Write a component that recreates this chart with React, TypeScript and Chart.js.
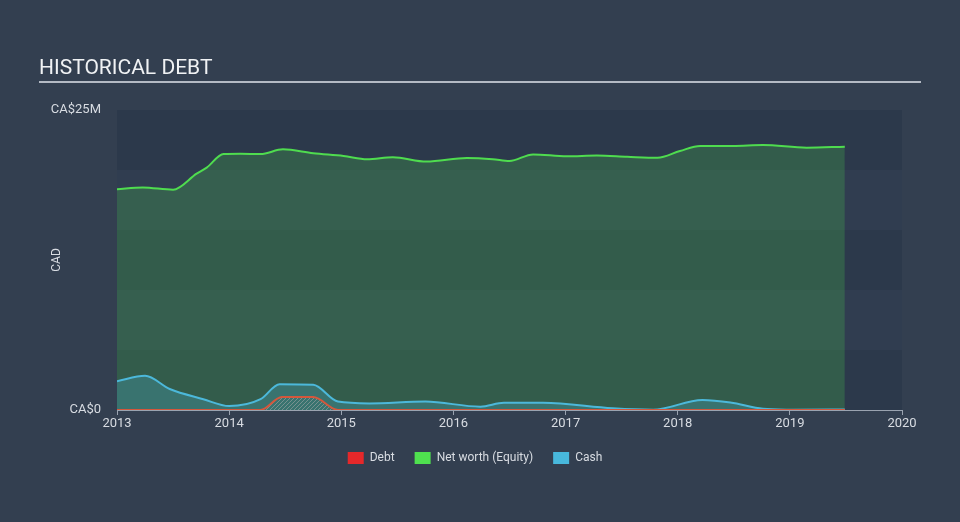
import React, { useEffect, useRef } from 'react';
import { Chart, registerables } from 'chart.js';

Chart.register(...registerables);

// ---- Data (values in CA$ millions, x as decimal years) ----
const xTickYears = [2013, 2014, 2015, 2016, 2017, 2018, 2019, 2020];
const yTickLabels: Record<number, string> = { 0: 'CA$0', 25: 'CA$25M' };

const netWorthX = [2013.0, 2013.23, 2013.5, 2013.71, 2013.8, 2013.95, 2014.1, 2014.28, 2014.48, 2014.75, 2015.02, 2015.23, 2015.46, 2015.76, 2016.12, 2016.35, 2016.5, 2016.71, 2017.01, 2017.28, 2017.55, 2017.82, 2018.02, 2018.2, 2018.49, 2018.76, 2019.15, 2019.49];
const netWorthY = [18.4, 18.55, 18.36, 19.7, 20.2, 21.33, 21.35, 21.33, 21.72, 21.39, 21.17, 20.9, 21.06, 20.7, 21.0, 20.9, 20.75, 21.3, 21.14, 21.2, 21.1, 21.02, 21.58, 22.0, 22.0, 22.08, 21.86, 21.94];

const cashX = [2013.0, 2013.25, 2013.47, 2013.77, 2014.0, 2014.28, 2014.45, 2014.75, 2014.97, 2015.25, 2015.75, 2016.24, 2016.45, 2016.8, 2017.42, 2017.78, 2018.22, 2018.47, 2018.76, 2018.97, 2019.49];
const cashY = [2.4, 2.85, 1.75, 0.9, 0.33, 0.9, 2.15, 2.1, 0.7, 0.55, 0.7, 0.28, 0.6, 0.6, 0.15, 0.03, 0.83, 0.62, 0.1, 0.03, 0.04];

const debtX = [2013.0, 2014.0, 2014.28, 2014.47, 2014.75, 2014.97, 2016.0, 2018.0, 2019.49];
const debtY = [0, 0, 0, 1.08, 1.08, 0, 0, 0, 0];

const legendNames = ['Debt', 'Net worth (Equity)', 'Cash'];
const legendColors = ['#e5282a', '#4fe04f', '#48b8dc'];

const toPoints = (xs: number[], ys: number[]) => xs.map((x, i) => ({ x, y: ys[i] }));

const PAGE_BG = '#333f50';
const BAND_DARK = '#2c394b';
const BAND_LIGHT = '#303d50';

export default function App() {
  const canvasRef = useRef<HTMLCanvasElement | null>(null);

  useEffect(() => {
    document.body.style.margin = '0';
    document.body.style.background = PAGE_BG;
    const canvas = canvasRef.current;
    if (!canvas) return;
    const ctx = canvas.getContext('2d')!;

    const pc = document.createElement('canvas');
    pc.width = 4;
    pc.height = 4;
    const pctx = pc.getContext('2d')!;
    pctx.strokeStyle = 'rgba(170,170,170,0.55)';
    pctx.lineWidth = 1;
    pctx.beginPath();
    pctx.moveTo(0, 4);
    pctx.lineTo(4, 0);
    pctx.moveTo(-1, 1);
    pctx.lineTo(1, -1);
    pctx.moveTo(3, 5);
    pctx.lineTo(5, 3);
    pctx.stroke();
    const hatch = ctx.createPattern(pc, 'repeat')!;

    const bgPlugin = {
      id: 'bgBands',
      beforeDraw(chart: any) {
        const c = chart.ctx;
        const { chartArea, scales } = chart;
        c.save();
        c.fillStyle = PAGE_BG;
        c.fillRect(0, 0, chart.width, chart.height);
        const y = scales.y;
        for (let i = 0; i < 5; i++) {
          const top = y.getPixelForValue((i + 1) * 5);
          const bottom = y.getPixelForValue(i * 5);
          c.fillStyle = i % 2 === 0 ? BAND_DARK : BAND_LIGHT;
          c.fillRect(chartArea.left, top, chartArea.right - chartArea.left, bottom - top);
        }
        c.fillStyle = '#d8dce2';
        c.font = '12px Roboto';
        c.textAlign = 'center';
        c.textBaseline = 'middle';
        c.translate(57, (chartArea.top + chartArea.bottom) / 2);
        c.rotate(-Math.PI / 2);
        c.fillText('CAD', 0, 0);
        c.restore();
      },
    };

    const chart = new Chart(ctx, {
      type: 'line',
      data: {
        datasets: [
          {
            label: legendNames[0],
            data: toPoints(debtX, debtY),
            borderColor: '#d4573c',
            backgroundColor: hatch,
            borderWidth: 2,
            fill: 'origin',
            pointRadius: 0,
            cubicInterpolationMode: 'monotone',
            order: 0,
          },
          {
            label: legendNames[1],
            data: toPoints(netWorthX, netWorthY),
            borderColor: '#4fdc4f',
            backgroundColor: 'rgba(79,220,79,0.22)',
            borderWidth: 2,
            fill: 'origin',
            pointRadius: 0,
            cubicInterpolationMode: 'monotone',
            order: 2,
          },
          {
            label: legendNames[2],
            data: toPoints(cashX, cashY),
            borderColor: '#4cb8da',
            backgroundColor: 'rgba(76,184,218,0.25)',
            borderWidth: 2,
            fill: 'origin',
            pointRadius: 0,
            cubicInterpolationMode: 'monotone',
            order: 1,
          },
        ],
      },
      options: {
        animation: false,
        responsive: false,
        maintainAspectRatio: false,
        layout: { padding: { top: 110, right: 58, bottom: 48, left: 48 } },
        scales: {
          x: {
            type: 'linear',
            min: 2013,
            max: 2020,
            afterBuildTicks: (s: any) => {
              s.ticks = xTickYears.map((v) => ({ value: v }));
            },
            afterFit: (s: any) => {
              s.height = 22;
            },
            ticks: {
              color: '#d8dce2',
              font: { family: 'Roboto', size: 13 },
              padding: 1,
              maxRotation: 0,
              callback: (v: any) => String(v),
            },
            grid: {
              drawOnChartArea: false,
              drawTicks: true,
              tickLength: 5,
              color: '#9aa3b0',
            },
            border: { display: true, color: '#9aa3b0' },
          },
          y: {
            min: 0,
            max: 25,
            afterBuildTicks: (s: any) => {
              s.ticks = [0, 5, 10, 15, 20, 25].map((v) => ({ value: v }));
            },
            afterFit: (s: any) => {
              s.width = 69;
            },
            ticks: {
              color: '#d8dce2',
              font: { family: 'Roboto', size: 13 },
              padding: 8,
              callback: (v: any) => yTickLabels[v] ?? '',
            },
            grid: { display: false },
            border: { display: false },
          },
        },
        plugins: {
          legend: {
            position: 'bottom',
            labels: {
              color: '#d8dce2',
              font: { family: 'Roboto', size: 12 },
              boxWidth: 16,
              boxHeight: 12,
              padding: 20,
              generateLabels: () =>
                legendNames.map((name, i) => ({
                  text: name,
                  fillStyle: legendColors[i],
                  strokeStyle: legendColors[i],
                  lineWidth: 0,
                  hidden: false,
                  datasetIndex: i,
                  fontColor: '#d8dce2',
                })),
            },
          },
          tooltip: { enabled: false },
        },
      },
      plugins: [bgPlugin],
    } as any);

    return () => chart.destroy();
  }, []);

  return (
    <div style={{ position: 'relative', width: 960, height: 522, background: PAGE_BG, overflow: 'hidden' }}>
      <canvas ref={canvasRef} width={960} height={522} style={{ position: 'absolute', left: 0, top: 0, width: 960, height: 522 }} />
      <div
        style={{
          position: 'absolute',
          left: 39,
          top: 57,
          fontFamily: 'Roboto',
          fontSize: 21,
          lineHeight: '21px',
          color: '#f0f2f4',
          whiteSpace: 'nowrap',
        }}
      >
        HISTORICAL DEBT
      </div>
      <div style={{ position: 'absolute', left: 39, top: 81, width: 882, height: 2, background: '#b4bac4' }} />
    </div>
  );
}
